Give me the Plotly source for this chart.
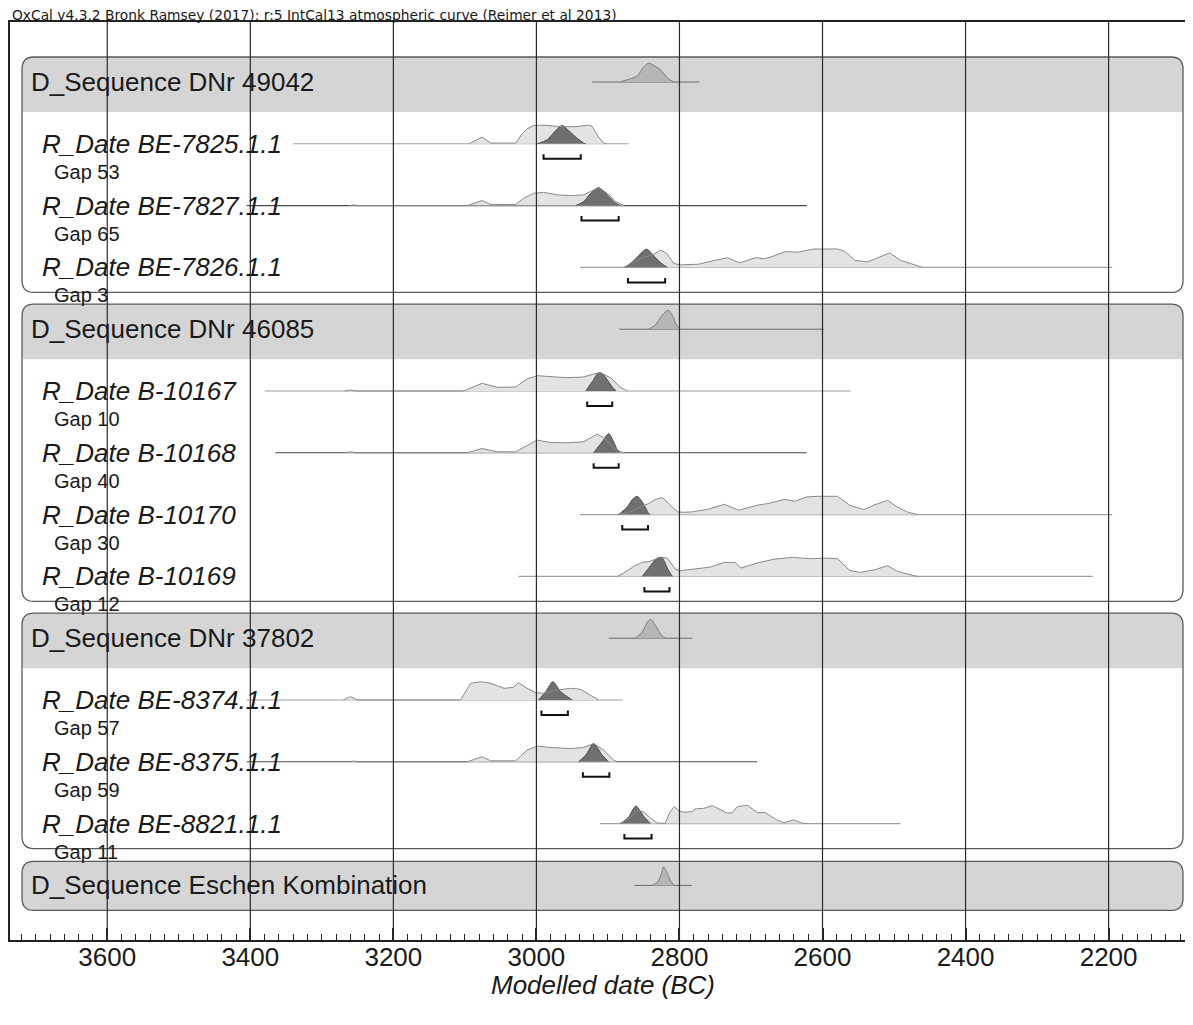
import plotly.graph_objects as go

# ---------------- text ----------------
TITLE_TEXT = "OxCal v4.3.2 Bronk Ramsey (2017); r:5 IntCal13 atmospheric curve (Reimer et al 2013)"
AXIS_TITLE = "Modelled date (BC)"
TICK_YEARS = [3600, 3400, 3200, 3000, 2800, 2600, 2400, 2200]
X_RANGE = [3736, 2082]

# ---------------- sequences (header rows) ----------------
SEQ_NAMES = ["D_Sequence DNr 49042", "D_Sequence DNr 46085",
             "D_Sequence DNr 37802", "D_Sequence Eschen Kombination"]
SEQ_SPANS = [(2922, 2772), (2884, 2598), (2899, 2782), (2863, 2783)]
SEQ1_DENS = [(2883, 0), (2871, 2.7), (2859, 6), (2850, 15), (2843, 19), (2834, 15.7),
             (2827, 12.7), (2817, 4), (2808, 0)]
SEQ2_DENS = [(2843, 0), (2834, 4), (2824, 14), (2816, 19), (2810, 14), (2804, 4), (2799, 0)]
SEQ3_DENS = [(2862, 0), (2852, 6), (2845, 16), (2840, 19), (2833, 12), (2826, 4), (2820, 0)]
SEQ4_DENS = [(2838, 0), (2831, 3), (2826, 10), (2822, 18.5), (2817, 12), (2812, 4), (2807, 0)]

# ---------------- dated samples ----------------
DATE_NAMES = ["R_Date BE-7825.1.1", "R_Date BE-7827.1.1", "R_Date BE-7826.1.1",
              "R_Date B-10167", "R_Date B-10168", "R_Date B-10170", "R_Date B-10169",
              "R_Date BE-8374.1.1", "R_Date BE-8375.1.1", "R_Date BE-8821.1.1"]
DATE_GROUP = [0, 0, 0, 1, 1, 1, 1, 2, 2, 2]
GAPS = [53, 65, 3, 10, 40, 30, 12, 57, 59, 11]
DATE_SPANS = [(3340, 2871), (3405, 2622), (2939, 2195), (3380, 2561), (3365, 2622),
              (2939, 2195), (3025, 2222), (3405, 2880), (3405, 2691), (2911, 2491)]
HPD_RANGES = [(2990, 2938), (2937, 2885), (2872, 2820), (2929, 2894), (2920, 2885),
              (2880, 2844), (2849, 2814), (2993, 2956), (2935, 2898), (2877, 2839)]
DARK_SPAN_LINE = [False, True, False, False, True, False, False, False, True, False]

# unmodelled (light) and modelled (dark) relative densities: (year BC, density)
PRIOR_BE7825 = [(3094, 0), (3076, 6.7), (3064, 0.7), (3029, 0.7), (3020, 10), (3013, 15),
                (3004, 18.3), (2990, 18.7), (2976, 17.7), (2962, 17), (2943, 17.3),
                (2927, 18.7), (2922, 17.3), (2913, 6.7), (2906, 0.7), (2901, 0)]
POST_BE7825 = [(2999, 0), (2985, 4), (2973, 13.3), (2964, 18.3), (2955, 13.3),
               (2945, 6.7), (2934, 0.7), (2931, 0)]

PRIOR_BE7827 = [(3262, 0), (3256, 0.8), (3250, 0), (3097, 0), (3076, 5), (3064, 1.3),
                (3029, 1), (3018, 7.3), (3004, 12.3), (2990, 13.3), (2971, 10.7),
                (2952, 10), (2934, 10.7), (2920, 15.7), (2913, 18), (2901, 12.3),
                (2889, 4), (2878, 0)]
POST_BE7827 = [(2945, 0), (2934, 4), (2924, 12.3), (2913, 18), (2901, 10.7),
               (2889, 2.3), (2883, 0)]

PRIOR_BE7826 = [(2878, 0), (2864, 5), (2850, 10), (2836, 13.3), (2826, 17.3), (2817, 13.3),
                (2808, 4), (2799, 2.5), (2773, 3.2), (2750, 7.1), (2733, 9.7), (2716, 4.5),
                (2693, 9.7), (2681, 8.7), (2670, 11), (2652, 15.8), (2635, 15.2),
                (2612, 18.4), (2578, 18.4), (2569, 16), (2555, 7.1), (2537, 5.5),
                (2520, 10.3), (2506, 14.5), (2491, 7.1), (2474, 3.2), (2460, 0)]
POST_BE7826 = [(2876, 0), (2864, 6.7), (2855, 13.3), (2846, 18.3), (2838, 13.3),
               (2827, 5), (2817, 0)]

PRIOR_B10167 = [(3268, 0), (3260, 1), (3252, 0), (3102, 0), (3076, 7.7), (3055, 3.7),
                (3029, 4), (3013, 12), (2999, 15.3), (2980, 14.3), (2957, 13.3),
                (2934, 14), (2920, 17), (2910, 18.3), (2896, 13), (2883, 4), (2873, 0)]
POST_B10167 = [(2931, 0), (2922, 9.3), (2913, 18.3), (2906, 16), (2896, 6), (2889, 0)]

PRIOR_B10168 = [(3268, 0), (3260, 1), (3252, 0), (3097, 0), (3076, 4.3), (3055, 1),
                (3029, 1), (3013, 7.7), (2999, 12.7), (2980, 10.3), (2957, 10),
                (2934, 11), (2915, 18.7), (2906, 15.3), (2896, 7.7), (2887, 2.7), (2878, 0)]
POST_B10168 = [(2920, 0), (2908, 11), (2899, 19.3), (2892, 11), (2887, 3), (2883, 0)]

PRIOR_B10170 = [(2887, 0), (2868, 2.7), (2855, 7.7), (2843, 11), (2834, 15), (2824, 17),
                (2815, 11), (2803, 2.7), (2794, 2.3), (2782, 2.7), (2775, 3.7), (2762, 5),
                (2737, 10.3), (2717, 4.3), (2692, 9.3), (2677, 11), (2652, 15.3),
                (2639, 13.3), (2622, 17.7), (2607, 18.3), (2579, 18.3), (2562, 9.3),
                (2542, 5), (2529, 9.3), (2509, 14.3), (2497, 8.3), (2482, 2.7), (2467, 0)]
POST_B10170 = [(2885, 0), (2873, 7.7), (2866, 15), (2859, 18.3), (2852, 12.7),
               (2843, 1), (2841, 0)]

PRIOR_B10169 = [(2887, 0), (2878, 3.3), (2864, 10), (2852, 14), (2841, 15), (2827, 19.3),
                (2817, 18.3), (2806, 7.3), (2799, 5.7), (2777, 7.3), (2757, 9.3),
                (2737, 14), (2722, 14), (2714, 8.3), (2692, 13.3), (2667, 17.3),
                (2642, 19), (2617, 17.7), (2597, 18.3), (2579, 17.7), (2562, 6),
                (2547, 4), (2527, 6.7), (2509, 10.7), (2495, 5), (2472, 0.7), (2467, 0)]
POST_B10169 = [(2852, 0), (2843, 8.3), (2831, 18.3), (2824, 18.3), (2817, 8.3), (2810, 0)]

PRIOR_BE8374 = [(3270, 0), (3260, 3.3), (3250, 0), (3106, 0), (3092, 16.7), (3078, 18.3),
                (3064, 16.7), (3045, 11.7), (3032, 12.7), (3025, 17.3), (3013, 11.7),
                (3001, 7.3), (2990, 6.7), (2971, 10), (2952, 11.7), (2938, 10.7),
                (2925, 5), (2913, 0)]
POST_BE8374 = [(2997, 0), (2987, 8.3), (2977, 18.3), (2966, 8.3), (2950, 0)]

PRIOR_BE8375 = [(3262, 0), (3256, 0.8), (3250, 0), (3097, 0), (3076, 5), (3064, 1),
                (3029, 1), (3013, 11.7), (2999, 15.7), (2980, 14.3), (2952, 13.3),
                (2934, 14.3), (2920, 18.3), (2906, 11.7), (2892, 1.7), (2887, 0)]
POST_BE8375 = [(2941, 0), (2931, 6.7), (2920, 18.3), (2908, 6.7), (2899, 0)]

PRIOR_BE8821 = [(2883, 0), (2868, 6.7), (2859, 13.3), (2850, 11.7), (2841, 6), (2831, 0.5),
                (2820, 0.3), (2813, 12), (2807, 17), (2801, 13), (2794, 11.3), (2782, 12),
                (2778, 14.7), (2766, 15.3), (2754, 18), (2745, 14.7), (2733, 10.3),
                (2726, 11), (2719, 17), (2705, 18.3), (2691, 11), (2680, 11), (2666, 4.3),
                (2654, 1), (2640, 3.7), (2628, 0.3), (2621, 0)]
POST_BE8821 = [(2882, 0), (2871, 6.7), (2861, 17.7), (2850, 7.3), (2841, 0)]

SEQ_DENS = [SEQ1_DENS, SEQ2_DENS, SEQ3_DENS, SEQ4_DENS]
PRIORS = [PRIOR_BE7825, PRIOR_BE7827, PRIOR_BE7826, PRIOR_B10167, PRIOR_B10168,
          PRIOR_B10170, PRIOR_B10169, PRIOR_BE8374, PRIOR_BE8375, PRIOR_BE8821]
POSTS = [POST_BE7825, POST_BE7827, POST_BE7826, POST_B10167, POST_B10168,
         POST_B10170, POST_B10169, POST_BE8374, POST_BE8375, POST_BE8821]

# ---------------- styling / layout constants ----------------
OFF = 8                              # default page (body) margin of the html page
W, H = 1193 - OFF, 1025 - OFF
ML, MR, MT, MB = 10 - OFF, 0, 22 - OFF, 85
PLOT_W = W - ML - MR
Y_TOP, Y_BOT = 22, 940               # y axis expressed in screen-like units
ROW0, PITCH = 82, 61.8
DENS_SCALE = 1.0
FONT = "Liberation Sans, Arial, Helvetica, sans-serif"
TITLE_FONT = "DejaVu Sans, Liberation Sans, sans-serif"
TXT = "#1a1a1a"
BAND = "#d5d5d5"
BOX_LINE = "#5a5a5a"
LIGHT_FILL, LIGHT_LINE = "#e3e3e3", "#8a8a8a"
DARK_FILL, DARK_LINE = "#707070", "#4e4e4e"
SEQ_FILL, SEQ_LINE = "#b6b6b6", "#7c7c7c"
GRID = "#2b2b2b"


def px_frac(px):
    return (px - 10) / PLOT_W


def py_frac(py):
    return (Y_BOT - py) / (Y_BOT - Y_TOP)


def row_y(i):
    return ROW0 + PITCH * i


fig = go.Figure()
shapes = []
annotations = []


def rrect_path(x0, x1, y0, y1, rx, ry, round_bottom=True):
    p = f"M {x0+rx},{y0} L {x1-rx},{y0} Q {x1},{y0} {x1},{y0+ry} "
    if round_bottom:
        p += f"L {x1},{y1-ry} Q {x1},{y1} {x1-rx},{y1} L {x0+rx},{y1} Q {x0},{y1} {x0},{y1-ry} "
    else:
        p += f"L {x1},{y1} L {x0},{y1} "
    p += f"L {x0},{y0+ry} Q {x0},{y0} {x0+rx},{y0} Z"
    return p


def add_density(dens, base, fill, line, separate_outline=False, smooth=False):
    xs = [d[0] for d in dens]
    ys = [base - d[1] * DENS_SCALE for d in dens]
    ln = dict(color=line if not separate_outline else "rgba(0,0,0,0)", width=1)
    if smooth:
        ln.update(shape="spline", smoothing=0.7)
    fig.add_trace(go.Scatter(x=xs, y=ys, mode="lines", fill="toself", fillcolor=fill,
                             line=ln, hoverinfo="skip", showlegend=False))
    return xs, ys


def add_line(x, y, color, width):
    fig.add_trace(go.Scatter(x=x, y=y, mode="lines", line=dict(color=color, width=width),
                             hoverinfo="skip", showlegend=False))


BX0, BX1 = px_frac(22), px_frac(1183)
RX, RY = 12 / PLOT_W, 12

# build the rows in order
line_idx = 0
for g, name in enumerate(SEQ_NAMES):
    members = [k for k, gg in enumerate(DATE_GROUP) if gg == g]
    hy = row_y(line_idx)
    if members:
        top, band_bot = hy - 25, hy + 30
        bottom = row_y(line_idx + len(members)) + 25
        shapes.append(dict(type="path", xref="paper", yref="y", layer="below",
                           path=rrect_path(BX0, BX1, top, band_bot, RX, RY, round_bottom=False),
                           fillcolor=BAND, line=dict(width=0)))
        shapes.append(dict(type="path", xref="paper", yref="y", layer="below",
                           path=rrect_path(BX0, BX1, top, bottom, RX, RY),
                           fillcolor="rgba(0,0,0,0)", line=dict(color=BOX_LINE, width=1.3)))
    else:
        top, bottom = hy - 24, hy + 25
        shapes.append(dict(type="path", xref="paper", yref="y", layer="below",
                           path=rrect_path(BX0, BX1, top, bottom, RX, RY),
                           fillcolor=BAND, line=dict(color=BOX_LINE, width=1.3)))
    # header label + distribution
    annotations.append(dict(text=name, xref="paper", yref="y", x=px_frac(29), y=hy,
                            xanchor="left", yanchor="middle", showarrow=False,
                            font=dict(family=FONT, size=26, color=TXT)))
    s0, s1 = SEQ_SPANS[g]
    add_line([s0, s1], [hy, hy], "#6a6a6a", 1)
    add_density(SEQ_DENS[g], hy, SEQ_FILL, SEQ_LINE, smooth=True)
    line_idx += 1
    for k in members:
        y = row_y(line_idx)
        s0, s1 = DATE_SPANS[k]
        add_line([s0, s1], [y, y], "#4a4a4a" if DARK_SPAN_LINE[k] else "#a0a0a0", 1.1)
        pxs, pys = add_density(PRIORS[k], y, LIGHT_FILL, LIGHT_LINE, separate_outline=True)
        add_density(POSTS[k], y, DARK_FILL, DARK_LINE, smooth=True)
        add_line(pxs, pys, LIGHT_LINE, 1)
        a, b = HPD_RANGES[k]
        add_line([a, a, b, b], [y + 10.5, y + 15, y + 15, y + 10.5], "#111111", 2)
        annotations.append(dict(text=f"<i>{DATE_NAMES[k]}</i>", xref="paper", yref="y",
                                x=px_frac(40), y=y, xanchor="left", yanchor="middle",
                                showarrow=False, font=dict(family=FONT, size=26, color=TXT)))
        annotations.append(dict(text=f"Gap {GAPS[k]}", xref="paper", yref="y",
                                x=px_frac(52), y=y + 28, xanchor="left", yanchor="middle",
                                showarrow=False, font=dict(family=FONT, size=20, color=TXT)))
        line_idx += 1

# vertical grid lines over everything
for t in TICK_YEARS:
    shapes.append(dict(type="line", xref="x", yref="paper", x0=t, x1=t, y0=0, y1=1,
                       layer="above", line=dict(color=GRID, width=1.2)))

# title and axis title
annotations.append(dict(text=TITLE_TEXT, xref="paper", yref="paper", x=0,
                        y=py_frac(14.5), xanchor="left", yanchor="middle",
                        showarrow=False, font=dict(family=TITLE_FONT, size=13.8, color=TXT)))
annotations.append(dict(text=f"<i>{AXIS_TITLE}</i>", xref="paper", yref="paper",
                        x=px_frac(603), y=py_frac(985), xanchor="center",
                        yanchor="middle", showarrow=False,
                        font=dict(family=FONT, size=26, color=TXT)))

fig.update_layout(
    width=W, height=H,
    margin=dict(l=ML, r=MR, t=MT, b=MB, pad=0),
    paper_bgcolor="white", plot_bgcolor="rgba(0,0,0,0)",
    shapes=shapes, annotations=annotations, showlegend=False,
    xaxis=dict(range=X_RANGE, tickmode="linear", tick0=2200, dtick=200,
               ticks="inside", ticklen=12, tickwidth=1.5, tickcolor="#222",
               minor=dict(ticks="inside", ticklen=6, tickwidth=1, tickcolor="#222",
                          dtick=20, tick0=2200, showgrid=False),
               showgrid=False, zeroline=False, showline=True, linewidth=2,
               linecolor="#222", mirror=True, ticklabelstandoff=-7,
               tickfont=dict(family=FONT, size=26, color=TXT)),
    yaxis=dict(range=[Y_BOT, Y_TOP], showgrid=False, zeroline=False, showticklabels=False,
               ticks="", showline=True, linewidth=2, linecolor="#222", mirror=False),
)

fig.write_html("out.html")
